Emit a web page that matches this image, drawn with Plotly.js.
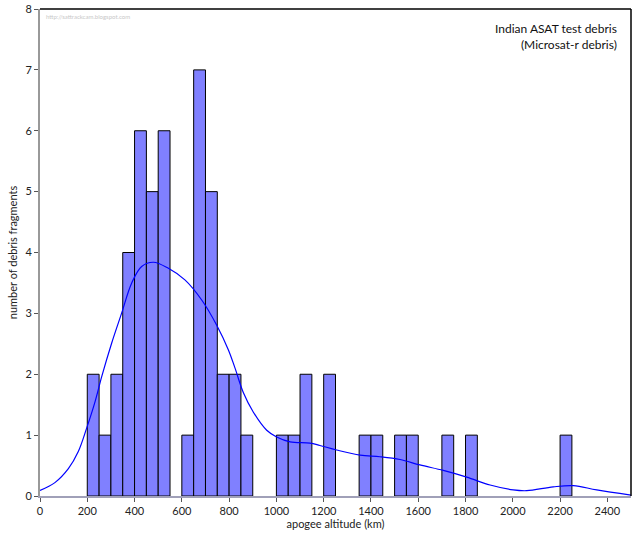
<!DOCTYPE html>
<html>
<head>
<meta charset="utf-8">
<script src="https://cdn.plot.ly/plotly-3.0.1.min.js"></script>
<style>
  html, body { margin: 0; padding: 0; background: #fff; }
  #myDiv { width: 640px; height: 533px; }
</style>
</head>
<body>
<div id="myDiv"></div>
<script>
// Histogram bins (left edge, km) and counts, 50 km wide
const binLeft = [200, 250, 300, 350, 400, 450, 500, 600, 650, 700, 750, 800, 850,
                 1000, 1050, 1100, 1200, 1350, 1400, 1500, 1550, 1700, 1800, 2200];
const binCount = [2, 1, 2, 4, 6, 5, 6, 1, 7, 5, 2, 2, 1,
                  1, 1, 2, 2, 1, 1, 1, 1, 1, 1, 1];

// Density curve
const curveX = [0, 63, 120, 162, 197, 233, 261, 303, 345, 388, 430, 480, 543, 613, 684,
                747, 797, 825, 860, 902, 959, 1001, 1058, 1142, 1184, 1255, 1354, 1438,
                1523, 1607, 1706, 1805, 1904, 2002, 2059, 2171, 2256, 2355, 2500];
const curveY = [0.09, 0.22, 0.45, 0.73, 1.11, 1.55, 1.96, 2.51, 3.0, 3.5, 3.77, 3.84, 3.74, 3.55, 3.22,
                2.81, 2.40, 2.10, 1.70, 1.38, 1.08, 0.97, 0.89, 0.87, 0.83, 0.755, 0.67, 0.645,
                0.60, 0.51, 0.42, 0.31, 0.18, 0.10, 0.087, 0.15, 0.17, 0.10, 0.015];

const xTicks = [0, 200, 400, 600, 800, 1000, 1200, 1400, 1600, 1800, 2000, 2200, 2400];
const yTicks = [0, 1, 2, 3, 4, 5, 6, 7, 8];

const font = 'Lato, "Noto Sans", sans-serif';

let bars = {
    type: 'bar',
    x: binLeft,
    y: binCount,
    width: 50,
    offset: 0,
    marker: {
        color: '#8080ff',
        line: {color: '#000000', width: 1}
    },
    hoverinfo: 'x+y'
};

let curve = {
    type: 'scatter',
    mode: 'lines',
    x: curveX,
    y: curveY,
    line: {color: '#0000ff', width: 1.2, shape: 'spline', smoothing: 1},
    hoverinfo: 'skip'
};

let layout = {
    width: 640,
    height: 533,
    margin: {l: 40, r: 9, t: 9, b: 37},
    paper_bgcolor: '#ffffff',
    plot_bgcolor: '#ffffff',
    showlegend: false,
    bargap: 0,
    font: {family: font, size: 11, color: '#222'},

    xaxis: {
        range: [0, 2500],
        tickvals: xTicks,
        ticks: 'outside',
        ticklen: 4,
        tickcolor: '#555',
        showgrid: false,
        zeroline: false,
        showline: true,
        linecolor: '#a0a0b8',
        linewidth: 2,
        tickfont: {size: 11, color: '#222'},
        title: {text: 'apogee altitude (km)', font: {size: 11, color: '#222'}, standoff: 3}
    },

    yaxis: {
        range: [0, 8],
        tickvals: yTicks,
        ticks: 'outside',
        ticklen: 4,
        tickcolor: '#555',
        showgrid: false,
        zeroline: false,
        showline: true,
        linecolor: '#999',
        linewidth: 2,
        tickfont: {size: 11, color: '#222'},
        title: {text: 'number of debris fragments', font: {size: 11, color: '#222'}, standoff: 6}
    },

    // top and right frame
    shapes: [
        {type: 'line', xref: 'paper', yref: 'paper', x0: 0, x1: 1, y0: 1, y1: 1,
         line: {color: '#000', width: 1.5}},
        {type: 'line', xref: 'paper', yref: 'paper', x0: 1, x1: 1, y0: 0, y1: 1,
         line: {color: '#000', width: 1.5}}
    ],

    annotations: [
        {
            xref: 'paper', yref: 'paper', x: 1, y: 1,
            xanchor: 'right', yanchor: 'top', align: 'right',
            xshift: -12, yshift: -10,
            showarrow: false,
            text: 'Indian ASAT test debris<br>(Microsat-r debris)',
            font: {family: font, size: 12, color: '#111'}
        },
        {
            xref: 'paper', yref: 'paper', x: 0, y: 1,
            xanchor: 'left', yanchor: 'top',
            xshift: 4, yshift: -2,
            showarrow: false,
            text: 'http://sattrackcam.blogspot.com',
            font: {family: font, size: 6, color: '#c8c8c8'}
        }
    ]
};

Plotly.newPlot('myDiv', [bars, curve], layout, {displayModeBar: false, staticPlot: true});
</script>
</body>
</html>
